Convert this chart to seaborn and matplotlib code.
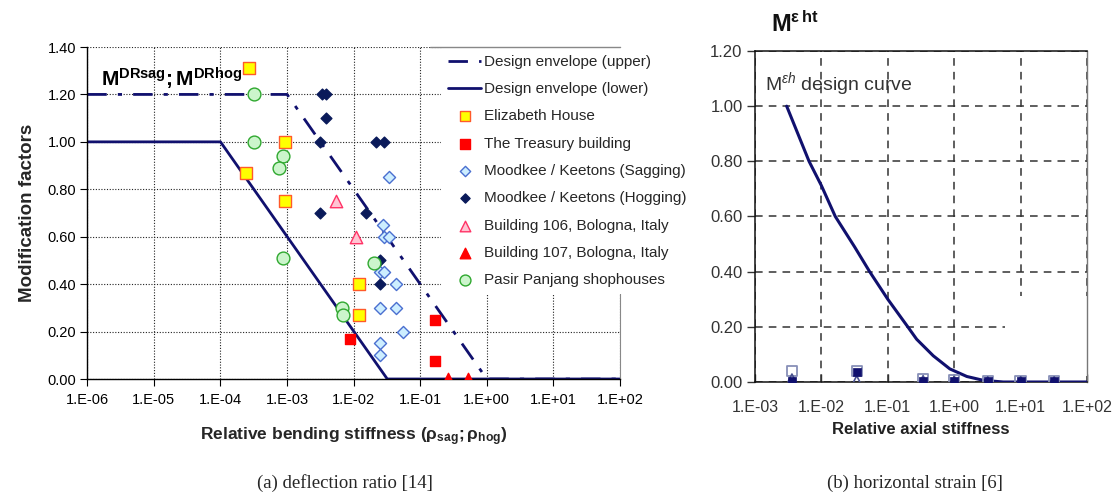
import numpy as np
import pandas as pd
import matplotlib
matplotlib.use("Agg")
import matplotlib.pyplot as plt
import seaborn as sns
from matplotlib.patches import Rectangle

# ---------------- data: left chart (deflection ratio) ----------------
upper_x = [1e-6, 1e-3, 1e0, 1e2]
upper_y = [1.2, 1.2, 0.0, 0.0]
lower_x = [1e-6, 1e-4, 0.032, 1e2]
lower_y = [1.0, 1.0, 0.0, 0.0]

eliz_x = [2.7e-4, 9.3e-4, 2.4e-4, 9.3e-4, 1.2e-2, 1.2e-2]
eliz_y = [1.31, 1.00, 0.87, 0.75, 0.40, 0.27]

treas_x = [8.7e-3, 0.164, 0.164]
treas_y = [0.17, 0.25, 0.075]

sag_x = [0.034, 0.028, 0.0285, 0.034, 0.025, 0.029, 0.044, 0.025, 0.044, 0.055, 0.025, 0.025]
sag_y = [0.85, 0.65, 0.60, 0.60, 0.45, 0.45, 0.40, 0.30, 0.30, 0.20, 0.15, 0.10]

hog_x = [0.00335, 0.0039, 0.0039, 0.0031, 0.0214, 0.0285, 0.0031, 0.0155, 0.025, 0.025]
hog_y = [1.2, 1.2, 1.1, 1.0, 1.0, 1.0, 0.70, 0.70, 0.50, 0.40]

b106_x = [0.0055, 0.011]
b106_y = [0.75, 0.60]

b107_x = [0.26, 0.53]
b107_y = [0.0, 0.0]

pasir_x = [3.2e-4, 3.2e-4, 8.6e-4, 7.5e-4, 8.6e-4, 6.7e-3, 7.0e-3, 0.020]
pasir_y = [1.2, 1.0, 0.94, 0.89, 0.51, 0.30, 0.27, 0.49]

left_xticks = [1e-6, 1e-5, 1e-4, 1e-3, 1e-2, 1e-1, 1e0, 1e1, 1e2]
left_xlabels = ["1.E-06", "1.E-05", "1.E-04", "1.E-03", "1.E-02", "1.E-01", "1.E+00", "1.E+01", "1.E+02"]
left_yticks = [0.0, 0.2, 0.4, 0.6, 0.8, 1.0, 1.2, 1.4]

# ---------------- data: right chart (horizontal strain) ----------------
curve_x = [0.003, 0.00652, 0.01, 0.0162, 0.0316, 0.0533, 0.1, 0.2, 0.272, 0.484, 0.86, 1.55, 2.75, 5.5, 100.0]
curve_y = [1.00, 0.80, 0.712, 0.60, 0.49, 0.40, 0.30, 0.20, 0.155, 0.095, 0.0475, 0.02, 0.006, 0.0, 0.0]

pts_x = [3.6e-3, 3.4e-2, 0.34, 1.0, 3.2, 10.0, 32.0]
open_sq_y = [0.040, 0.040, 0.010, 0.005, 0.003, 0.003, 0.003]
fill_sq_y = [0.005, 0.035, 0.005, 0.005, 0.002, 0.002, 0.002]
tri_y = [0.012, 0.006, 0.006, 0.002, 0.002, 0.002, 0.002]

right_xticks = [1e-3, 1e-2, 1e-1, 1e0, 1e1, 1e2]
right_xlabels = ["1.E-03", "1.E-02", "1.E-01", "1.E+00", "1.E+01", "1.E+02"]
right_yticks = [0.0, 0.2, 0.4, 0.6, 0.8, 1.0, 1.2]

# ---------------- style ----------------
sns.set_style("white")
plt.rcParams["font.family"] = ["Liberation Sans", "DejaVu Sans"]
plt.rcParams["mathtext.fontset"] = "custom"
plt.rcParams["mathtext.rm"] = "Liberation Sans"
plt.rcParams["mathtext.it"] = "Liberation Sans:italic"
plt.rcParams["mathtext.bf"] = "Liberation Sans:bold"

NAVY = "#10106e"

fig = plt.figure(figsize=(11.17, 4.98), dpi=100)
ax1 = fig.add_axes([87.3 / 1117, 1 - 379 / 498, (620 - 87.3) / 1117, (379 - 47) / 498])
ax2 = fig.add_axes([755 / 1117, 1 - 382 / 498, (1087 - 755) / 1117, (382 - 51) / 498])

# ---------------- left chart ----------------
ax1.set_axisbelow(True)
sns.lineplot(x=upper_x, y=upper_y, ax=ax1, color=NAVY, lw=2.0, sort=False, estimator=None,
             linestyle=(0, (7, 4, 1.5, 4)), label="Design envelope (upper)", zorder=2)
sns.lineplot(x=lower_x, y=lower_y, ax=ax1, color=NAVY, lw=2.0, sort=False, estimator=None,
             label="Design envelope (lower)", zorder=2)

sc_kw = dict(ax=ax1, zorder=3, linewidth=1.0)
sns.scatterplot(x=eliz_x, y=eliz_y, marker="s", s=75, color="#ffff00", edgecolor="#ff5a2a",
                label="Elizabeth House", **sc_kw)
sns.scatterplot(x=treas_x, y=treas_y, marker="s", s=60, color="#ff0000", edgecolor="#ff0000",
                label="The Treasury building", **sc_kw)
sns.scatterplot(x=sag_x, y=sag_y, marker="D", s=38, color="#cdeeff", edgecolor="#4a6fd0",
                label="Moodkee / Keetons (Sagging)", **sc_kw)
sns.scatterplot(x=hog_x, y=hog_y, marker="D", s=30, color="#0a1a5a", edgecolor="#0a1a5a",
                label="Moodkee / Keetons (Hogging)", **sc_kw)
sns.scatterplot(x=b106_x, y=b106_y, marker="^", s=80, color="#ffc4d2", edgecolor="#ff3366",
                label="Building 106, Bologna, Italy", **sc_kw)
sns.scatterplot(x=b107_x, y=b107_y, marker="^", s=80, color="#ff0000", edgecolor="#ff0000",
                label="Building 107, Bologna, Italy", **sc_kw)
sns.scatterplot(x=pasir_x, y=pasir_y, marker="o", s=85, color="#ccf5cc", edgecolor="#2fa82f",
                label="Pasir Panjang shophouses", **sc_kw)

ax1.set_xscale("log")
ax1.set_xlim(1e-6, 1e2)
ax1.set_ylim(0, 1.4)
ax1.set_xticks(left_xticks)
ax1.set_xticklabels(left_xlabels)
ax1.xaxis.set_minor_locator(matplotlib.ticker.NullLocator())
ax1.set_yticks(left_yticks)
ax1.set_yticklabels([f"{v:.2f}" for v in left_yticks])
ax1.grid(True, which="major", color="#222222", linestyle=(0, (1, 1.5)), linewidth=0.8)
ax1.tick_params(axis="both", labelsize=10.5, colors="#000000", length=5, width=0.8,
                direction="out", bottom=True, left=True, pad=3)
ax1.tick_params(axis="x", pad=5)
for side in ["left", "bottom"]:
    ax1.spines[side].set_color("#000000")
    ax1.spines[side].set_linewidth(1.0)
ax1.spines["right"].set_color("#888888")
ax1.spines["top"].set_visible(False)

ax1.set_xlabel(r"Relative bending stiffness ($\mathbf{\rho_{sag}; \rho_{hog}}$)",
               fontsize=12.5, fontweight="bold", labelpad=13)
ax1.set_ylabel("Modification factors", fontsize=13.5, fontweight="bold", labelpad=8)

ax1.text(0.025, 0.905, r"$\mathbf{M^{DRsag}; M^{DRhog}}$", transform=ax1.transAxes,
         fontsize=15, ha="left", va="center", color="#000000")

handles, labels = ax1.get_legend_handles_labels()
if ax1.get_legend() is not None:
    ax1.get_legend().remove()
leg = fig.legend(handles, labels, loc="upper left", bbox_to_anchor=(441 / 1117, 1 - 48 / 498),
                 bbox_transform=fig.transFigure, fontsize=11, frameon=True, framealpha=1,
                 edgecolor="none", facecolor="white", handlelength=2.2, handletextpad=0.15,
                 labelspacing=0.87, borderpad=0.45, borderaxespad=0, markerscale=0.85)
leg.set_zorder(5)
# top border line to the right of the legend start
fig.add_artist(plt.Line2D([430 / 1117, 620 / 1117], [1 - 47.5 / 498, 1 - 47.5 / 498],
                          color="#888888", lw=1.0, transform=fig.transFigure, zorder=6))

# ---------------- right chart ----------------
ax2.set_axisbelow(True)
sns.lineplot(x=curve_x, y=curve_y, ax=ax2, color=NAVY, lw=2.2, sort=False, estimator=None, zorder=3)
sns.scatterplot(x=pts_x, y=open_sq_y, ax=ax2, marker="s", s=55, color="none",
                edgecolor="#8890b8", linewidth=1.3, zorder=4)
sns.scatterplot(x=pts_x, y=tri_y, ax=ax2, marker="^", s=45, color="none",
                edgecolor="#4a5290", linewidth=1.2, zorder=4)
sns.scatterplot(x=pts_x, y=fill_sq_y, ax=ax2, marker="s", s=28, color=NAVY,
                edgecolor=NAVY, linewidth=0.5, zorder=5)

ax2.set_xscale("log")
ax2.set_xlim(1e-3, 1e2)
ax2.set_ylim(0, 1.2)
ax2.set_xticks(right_xticks)
ax2.set_xticklabels(right_xlabels)
ax2.xaxis.set_minor_locator(matplotlib.ticker.NullLocator())
ax2.set_yticks(right_yticks)
ax2.set_yticklabels([f"{v:.2f}" for v in right_yticks])
ax2.grid(True, which="major", color="#333333", linestyle=(0, (5, 4)), linewidth=1.1)
ax2.tick_params(axis="y", labelsize=12, colors="#333333", length=6, width=1.0,
                direction="out", left=True, pad=3)
ax2.tick_params(axis="x", labelsize=11.5, colors="#333333", length=6, width=1.0,
                direction="in", bottom=True, pad=13)
for side in ["left", "bottom", "top"]:
    ax2.spines[side].set_color("#111111")
    ax2.spines[side].set_linewidth(1.1)
ax2.spines["right"].set_color("#777777")
ax2.spines["right"].set_linewidth(1.0)

# washed-out area of the scanned figure (gridlines missing)
ax2.add_patch(Rectangle((5.9, 0.02), 100 - 5.9, 0.29, facecolor="white", edgecolor="none", zorder=1))

ax2.set_xlabel("Relative axial stiffness", fontsize=12, fontweight="bold",
               color="#222222", labelpad=5)
ax2.text(0.03, 0.9, r"M$^{\varepsilon h}$ design curve", transform=ax2.transAxes,
         fontsize=14, color="#333333", ha="left", va="center")
fig.text(771 / 1117, 1 - 24 / 498, r"$\mathbf{M^{\varepsilon\,ht}}$", fontsize=17,
         ha="left", va="center", color="#111111")

# ---------------- captions ----------------
fig.text(345 / 1117, 1 - 483 / 498, "(a) deflection ratio [14]", fontsize=13.5,
         family=["Liberation Serif", "DejaVu Serif"], ha="center", va="center")
fig.text(915 / 1117, 1 - 483 / 498, "(b) horizontal strain [6]", fontsize=13.5,
         family=["Liberation Serif", "DejaVu Serif"], ha="center", va="center")

fig.savefig("out.png", dpi=100)
